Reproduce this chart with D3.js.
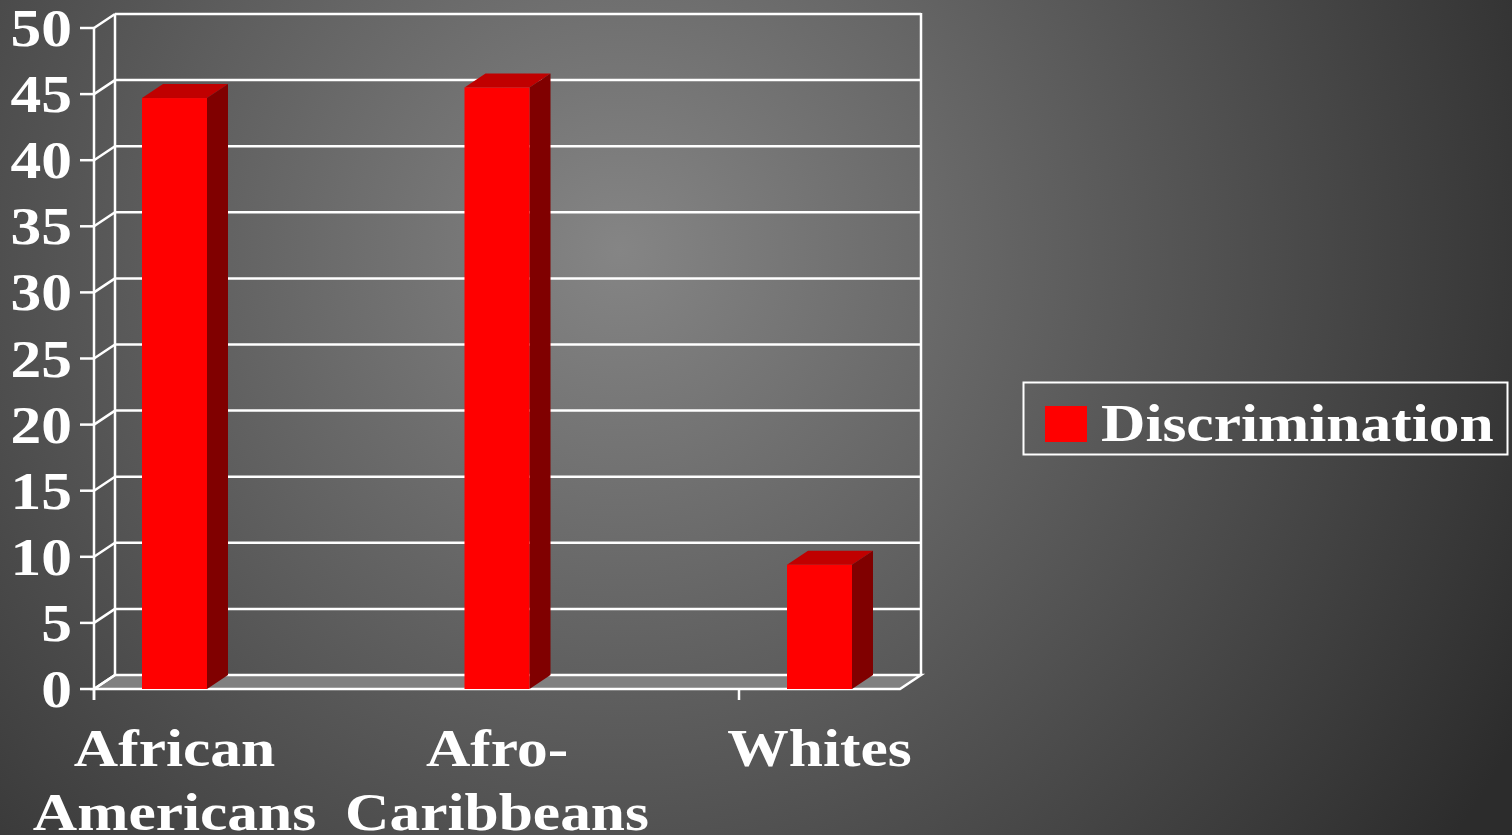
<!DOCTYPE html>
<html>
<head>
<meta charset="utf-8">
<script src="https://cdn.jsdelivr.net/npm/d3@7"></script>
<style>
  body { margin: 0; background: #333; }
  .lbl { font-family: "Liberation Serif", "Times New Roman", serif; font-weight: bold; fill: white; font-size: 53px; }
</style>
</head>
<body>
<div id="chart"></div>
<script>
// chart data
var categories = ["African Americans", "Afro-Caribbeans", "Whites"];
var categoryLines = [["African", "Americans"], ["Afro-", "Caribbeans"], ["Whites"]];
var discrimination = [44.7, 45.5, 9.4];
var yTicks = [0, 5, 10, 15, 20, 25, 30, 35, 40, 45, 50];
var seriesName = "Discrimination";

var W = 1512, H = 835;
var depth = {dx: 21, dy: -14};
var stretch = 1.16;

var svg = d3.select("#chart")
  .append("svg")
    .attr("width", W)
    .attr("height", H);

// background radial gradient
var defs = svg.append("defs");
var grad = defs.append("radialGradient")
  .attr("id", "bg")
  .attr("gradientUnits", "userSpaceOnUse")
  .attr("cx", 620).attr("cy", 250).attr("r", 1020);
grad.append("stop").attr("offset", "0").attr("stop-color", "#858585");
grad.append("stop").attr("offset", "1").attr("stop-color", "#2c2c2c");

svg.append("rect")
  .attr("width", W).attr("height", H)
  .attr("fill", "url(#bg)");

// scales (front plane)
var y = d3.scaleLinear()
  .domain([0, 50])
  .range([689, 28]);

var x = d3.scaleBand()
  .domain(categories)
  .range([94, 1061.5]);

var barW = 65, barOff = 48;
var x0 = 94, x1 = 900;   // front floor edge

// floor
var f0 = y(0);
svg.append("path")
  .attr("d", "M" + x0 + "," + f0 + "L" + x1 + "," + f0 +
             "L" + (x1 + depth.dx) + "," + (f0 + depth.dy) +
             "L" + (x0 + depth.dx) + "," + (f0 + depth.dy) + "Z")
  .attr("fill", "#808080")
  .attr("stroke", "white")
  .attr("stroke-width", 2.5);

// back wall gridlines + side wall diagonals
var grid = svg.append("g");
grid.selectAll(".bgrid")
  .data(yTicks.filter(function(d) { return d > 0; }))
  .enter().append("line")
  .attr("x1", x0 + depth.dx)
  .attr("x2", x1 + depth.dx)
  .attr("y1", function(d) { return y(d) + depth.dy; })
  .attr("y2", function(d) { return y(d) + depth.dy; })
  .attr("stroke", "white").attr("stroke-width", 2.5);

grid.selectAll(".diag")
  .data(yTicks)
  .enter().append("line")
  .attr("x1", x0)
  .attr("x2", x0 + depth.dx)
  .attr("y1", function(d) { return y(d); })
  .attr("y2", function(d) { return y(d) + depth.dy; })
  .attr("stroke", "white").attr("stroke-width", 2.5);

// back wall verticals
grid.append("line")
  .attr("x1", x0 + depth.dx).attr("x2", x0 + depth.dx)
  .attr("y1", y(50) + depth.dy).attr("y2", y(0) + depth.dy)
  .attr("stroke", "white").attr("stroke-width", 2.5);
grid.append("line")
  .attr("x1", x1 + depth.dx).attr("x2", x1 + depth.dx)
  .attr("y1", y(50) + depth.dy - 1).attr("y2", y(0) + depth.dy)
  .attr("stroke", "white").attr("stroke-width", 2.5);

// front value axis
svg.append("line")
  .attr("x1", x0).attr("x2", x0)
  .attr("y1", y(50)).attr("y2", y(0) + 11)
  .attr("stroke", "white").attr("stroke-width", 2.5);
svg.selectAll(".ytick")
  .data(yTicks)
  .enter().append("line")
  .attr("x1", x0 - 14).attr("x2", x0)
  .attr("y1", function(d) { return y(d); })
  .attr("y2", function(d) { return y(d); })
  .attr("stroke", "white").attr("stroke-width", 2.5);

svg.selectAll(".ylabel")
  .data(yTicks)
  .enter().append("text")
  .attr("class", "lbl")
  .attr("text-anchor", "end")
  .attr("transform", function(d) { return "translate(72," + (y(d) + 18) + ") scale(" + stretch + ",1)"; })
  .text(function(d) { return d; });

// category ticks (every 2nd boundary)
svg.selectAll(".xtick")
  .data(categories.filter(function(d, i) { return !(i % 2); }))
  .enter().append("line")
  .attr("x1", function(d) { return x(d); })
  .attr("x2", function(d) { return x(d); })
  .attr("y1", y(0)).attr("y2", y(0) + 11)
  .attr("stroke", "white").attr("stroke-width", 2.5);

// bars
var bars = svg.selectAll(".bar")
  .data(categories)
  .enter().append("g");

bars.append("path")   // top
  .attr("d", function(d, i) {
    var l = x(d) + barOff, r = l + barW, t = y(discrimination[i]);
    return "M" + l + "," + t + "L" + r + "," + t + "L" + (r + depth.dx) + "," + (t + depth.dy) +
           "L" + (l + depth.dx) + "," + (t + depth.dy) + "Z";
  })
  .attr("fill", "#c00000");

bars.append("path")   // side
  .attr("d", function(d, i) {
    var r = x(d) + barOff + barW, t = y(discrimination[i]), b = y(0);
    return "M" + r + "," + t + "L" + (r + depth.dx) + "," + (t + depth.dy) +
           "L" + (r + depth.dx) + "," + (b + depth.dy) + "L" + r + "," + b + "Z";
  })
  .attr("fill", "#800000");

bars.append("rect")   // front
  .attr("x", function(d) { return x(d) + barOff; })
  .attr("y", function(d, i) { return y(discrimination[i]); })
  .attr("width", barW)
  .attr("height", function(d, i) { return y(0) - y(discrimination[i]); })
  .attr("fill", "#ff0000");

// category labels
svg.selectAll(".xlabel")
  .data(categories)
  .enter().append("text")
  .attr("class", "lbl")
  .attr("text-anchor", "middle")
  .attr("transform", function(d) { return "translate(" + (x(d) + barOff + barW / 2) + ",766) scale(" + stretch + ",1)"; })
  .selectAll("tspan")
  .data(function(d, i) { return categoryLines[i]; })
  .enter().append("tspan")
  .attr("x", 0)
  .attr("dy", function(d, i) { return i ? 64 : 0; })
  .text(function(d) { return d; });

// legend
var legend = svg.append("g");
legend.append("rect")
  .attr("x", 1023.5).attr("y", 382.5).attr("width", 484).attr("height", 72)
  .attr("fill", "none").attr("stroke", "white").attr("stroke-width", 2);
legend.append("rect")
  .attr("x", 1045).attr("y", 406).attr("width", 42).attr("height", 36)
  .attr("fill", "#ff0000");
legend.append("text")
  .attr("class", "lbl")
  .attr("transform", "translate(1101,441) scale(" + stretch + ",1)")
  .text(seriesName);
</script>
</body>
</html>
